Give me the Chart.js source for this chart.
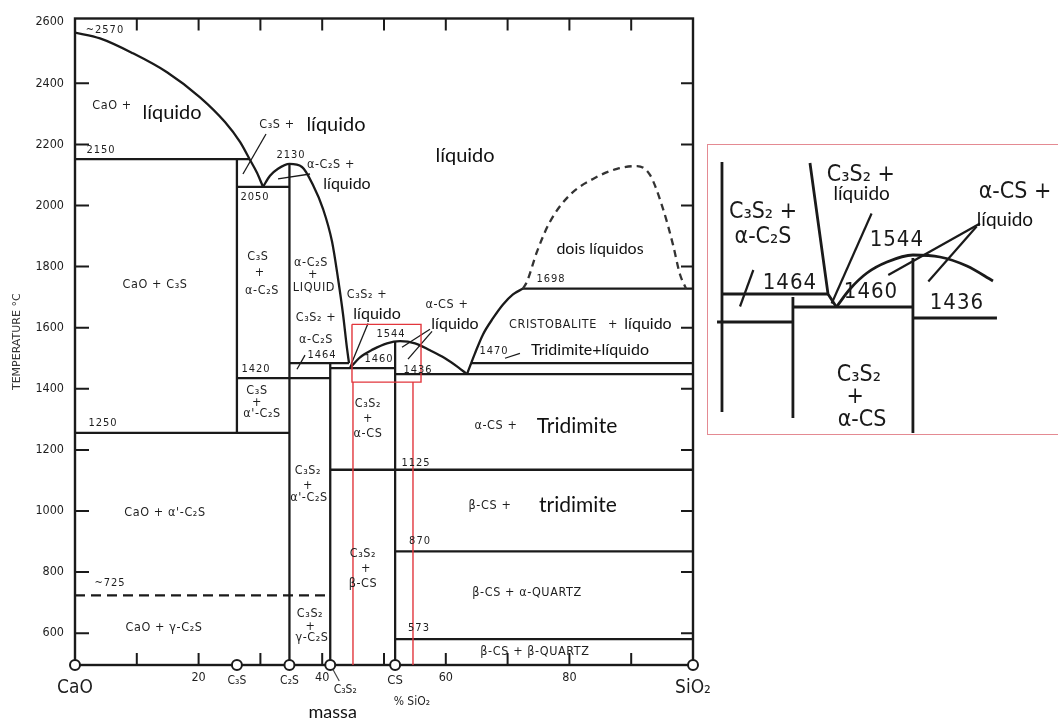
<!DOCTYPE html>
<html lang="pt">
<head>
<meta charset="utf-8">
<title>Diagrama de fases CaO-SiO2</title>
<script src="https://cdn.jsdelivr.net/npm/chart.js@4.4.1/dist/chart.umd.min.js"></script>
<style>
  html, body { margin: 0; padding: 0; background: #fff; overflow: hidden; }
  #diagrama { position: absolute; left: 0; top: 0; }
  #detalhe-borda { position: absolute; left: 707px; top: 144px; width: 420px; height: 289px; border: 1.5px solid #e48a92; }
  #detalhe { position: absolute; left: 709px; top: 146px; }
</style>
</head>
<body>
<canvas id="diagrama" width="1058" height="720"></canvas>
<div id="detalhe-borda"></div>
<canvas id="detalhe" width="349" height="288"></canvas>
<script>
/**
 * Diagrama CaO-SiO2 (% massa SiO2 x temperatura °C) + detalhe ampliado
 */

// eixos
const eixoTemp = [600, 800, 1000, 1200, 1400, 1600, 1800, 2000, 2200, 2400, 2600];
const marcasTemp = [600, 800, 1000, 1200, 1400, 1600, 1800, 2000, 2200, 2400];
const eixoPct = [20, 40, 60, 80];
const marcasPct = [10, 20, 30, 40, 50, 60, 70, 80, 90];

// compostos no eixo x (% SiO2)
const compostos = ['CaO', 'C₃S', 'C₂S', 'C₃S₂', 'CS', 'SiO₂'];
const compostosPct = [0, 26.2, 34.7, 41.3, 51.8, 100];

// curvas liquidus [pct, temp]
const liqCaO = [[0, 2566], [4.05, 2547], [9.39, 2498], [14.89, 2436], [20.23, 2354], [24.27, 2273], [26.7, 2208], [28.32, 2149], [29.45, 2107], [30.42, 2061]];
const liqC2S = [[30.42, 2061], [31.55, 2097], [32.85, 2120], [34.7, 2136], [36.73, 2126], [38.51, 2067], [40.13, 1989], [41.59, 1882], [42.56, 1761], [43.37, 1644], [44.01, 1533], [44.34, 1484]];
const liqCS = [[44.5, 1468], [46.12, 1503], [48.22, 1529], [50.49, 1549], [52.59, 1556], [55.02, 1549], [57.44, 1526], [59.87, 1500], [61.97, 1471], [63.43, 1448]];
const liqSiO2 = [[63.43, 1448], [64.72, 1516], [66.02, 1578], [67.64, 1631], [69.26, 1676], [70.87, 1709], [72.49, 1728]];
const doisLiquidos = [[72.49, 1728], [73.14, 1751], [74.76, 1849], [76.86, 1947], [80.1, 2035], [83.82, 2087], [87.7, 2120], [90.94, 2129], [93.04, 2100], [95.15, 1989], [96.76, 1872], [97.9, 1774], [98.87, 1728]];

// linhas verticais [pct, temp sup, temp inf]
const verticais = [[26.2, 2152, 1256], [34.7, 2136, 496], [41.3, 1484, 496], [51.8, 1556, 496]];

// isotermas [temp, pct inicial, pct final]
const isotermas = [
  [2152, 0, 28.3], [2061, 26.2, 34.7], [1256, 0, 34.7], [1435, 26.2, 41.3],
  [1484, 34.7, 44.34], [1468, 41.3, 51.8], [1448, 51.8, 100], [1484, 64.1, 100],
  [1728, 72.49, 100], [1135, 41.3, 100], [868, 51.8, 100], [581, 51.8, 100]
];
const isoterma725 = [724, 0, 41.3];

// linhas de chamada
const guias = [
  [[27.18, 2103], [30.91, 2234]],
  [[32.85, 2087], [38.03, 2103]],
  [[35.92, 1464], [37.22, 1510]],
  [[44.5, 1471], [47.41, 1614]],
  [[52.91, 1536], [57.44, 1595]],
  [[53.88, 1497], [57.77, 1588]],
  [[69.58, 1500], [72.0, 1516]]
];

// marcação vermelha da região ampliada
const caixaVermelha = [[44.82, 1611], [55.99, 1611], [55.99, 1422], [44.82, 1422], [44.82, 1611]];
const faixaVermelha = [[44.98, 1422, 496], [54.69, 1422, 496]];

// rótulos [texto, pct, temp, estilo]
const rotulos = [
  ['~2570', 4.85, 2573, 'num'],
  ['CaO +', 6.0, 2325, 'tec'], ['líquido', 15.7, 2305, 'pt'],
  ['2150', 4.21, 2182, 'num'],
  ['C₃S +', 32.69, 2263, 'tec'], ['líquido', 42.23, 2266, 'pt'],
  ['2130', 34.95, 2165, 'num'],
  ['2050', 29.13, 2028, 'num'],
  ['α-C₂S +', 41.42, 2133, 'tec'], ['líquido', 44.01, 2071, 'ptm'],
  ['líquido', 63.11, 2165, 'pt'],
  ['C₃S', 29.6, 1833, 'tec'], ['+', 29.9, 1780, 'tec'], ['α-C₂S', 30.26, 1722, 'tec'],
  ['α-C₂S', 38.19, 1813, 'tec'], ['+', 38.5, 1774, 'tec'], ['LIQUID', 38.67, 1732, 'tec'],
  ['C₃S₂ +', 39.0, 1631, 'tec'], ['α-C₂S', 39.0, 1562, 'tec'],
  ['1464', 39.97, 1510, 'num'],
  ['1420', 29.29, 1464, 'num'],
  ['C₃S', 29.45, 1393, 'tec'], ['+', 29.45, 1353, 'tec'], ["α'-C₂S", 30.26, 1318, 'tec'],
  ['1250', 4.53, 1288, 'num'],
  ['CaO + C₃S', 12.94, 1741, 'tec'],
  ['C₃S₂', 37.7, 1132, 'tec'], ['+', 37.7, 1083, 'tec'], ["α'-C₂S", 37.86, 1044, 'tec'],
  ["CaO + α'-C₂S", 14.56, 995, 'tec'],
  ['~725', 5.66, 763, 'num'],
  ['CaO + γ-C₂S', 14.4, 617, 'tec'],
  ['C₃S₂', 38.03, 665, 'tec'], ['+', 38.1, 620, 'tec'], ['γ-C₂S', 38.35, 584, 'tec'],
  ['C₃S₂ +', 47.25, 1709, 'tec'], ['líquido', 48.87, 1644, 'ptm'],
  ['1544', 51.13, 1578, 'num'],
  ['1460', 49.19, 1497, 'num'],
  ['1436', 55.5, 1461, 'num'],
  ['α-CS +', 60.19, 1676, 'tec'], ['líquido', 61.49, 1614, 'ptm'],
  ['CRISTOBALITE', 77.35, 1611, 'tec'], ['+', 87.06, 1611, 'tec'], ['líquido', 92.72, 1611, 'ptm'],
  ['Tridimite+líquido', 83.33, 1529, 'ptm'],
  ['1470', 67.8, 1523, 'num'],
  ['dois líquidos', 84.95, 1859, 'ptm'],
  ['1698', 77.02, 1758, 'num'],
  ['α-CS +', 68.12, 1278, 'tec'], ['Tridimite', 81.23, 1278, 'ptg'],
  ['1125', 55.18, 1158, 'num'],
  ['β-CS +', 67.15, 1018, 'tec'], ['tridimite', 81.39, 1018, 'ptg'],
  ['870', 55.83, 903, 'num'],
  ['β-CS + α-QUARTZ', 73.14, 734, 'tec'],
  ['573', 55.66, 617, 'num'],
  ['β-CS + β-QUARTZ', 74.43, 538, 'tec'],
  ['C₃S₂', 47.41, 1350, 'tec'], ['+', 47.41, 1301, 'tec'], ['α-CS', 47.41, 1252, 'tec'],
  ['C₃S₂', 46.6, 861, 'tec'], ['+', 47.1, 812, 'tec'], ['β-CS', 46.6, 763, 'tec']
];

// detalhe (região 1420-1560 °C, esquemático)
const detVerticais = [[34.9, 1730, 1230], [41.35, 1460, 1218], [52.26, 1538, 1188]];
const detIsotermas = [[1466, 34.9, 44.54], [1440, 41.35, 52.26], [1410, 34.45, 41.35], [1418, 52.26, 59.9]];
const detLiqC2S = [[42.9, 1728], [44.54, 1466], [45.3, 1440]];
const detLiqCS = [[45.3, 1440], [46.54, 1476], [48.08, 1508], [49.9, 1530], [52.26, 1544], [54.72, 1540], [57.17, 1522], [59.54, 1492]];
const detGuias = [
  [[48.5, 1627], [44.87, 1447]],
  [[58.36, 1607], [50.02, 1504]],
  [[58.05, 1601], [53.66, 1491]],
  [[37.75, 1514], [36.54, 1441]]
];
const detRotulos = [
  ['C₃S₂ +', 47.53, 1704, 'tec'], ['líquido', 47.6, 1667, 'pt'],
  ['C₃S₂ +', 38.63, 1630, 'tec'], ['α-C₂S', 38.63, 1580, 'tec'],
  ['1464', 41.08, 1488, 'num'],
  ['1544', 50.8, 1574, 'num'],
  ['1460', 48.45, 1470, 'num'],
  ['1436', 56.26, 1448, 'num'],
  ['α-CS +', 61.54, 1670, 'tec'], ['líquido', 60.63, 1614, 'pt'],
  ['C₃S₂', 47.35, 1304, 'tec'], ['+', 47.0, 1260, 'tec'], ['α-CS', 47.63, 1214, 'tec']
];

const PRETO = '#1a1a1a';
const VERMELHO = '#e2363c';
const TEC = '"DejaVu Sans Condensed", "DejaVu Sans", sans-serif';
const PT = 'Lato, "Open Sans", sans-serif';

const estilos = {
  tec: { font: `12.5px ${TEC}`, color: '#1e1e1e', spacing: '0.6px' },
  num: { font: `11px ${TEC}`, color: '#1e1e1e', spacing: '1px' },
  pt: { font: `20px ${PT}`, color: '#111' },
  ptm: { font: `16px ${PT}`, color: '#111' },
  ptg: { font: `21px ${PT}`, color: '#111' }
};
const estilosDet = {
  tec: { font: `23px ${TEC}`, color: '#1a1a1a' },
  num: { font: `22px ${TEC}`, color: '#1a1a1a', spacing: '1px' },
  pt: { font: `19px ${PT}`, color: '#111' }
};

function linha(pts, extra) {
  return Object.assign({
    data: pts.map(([x, y]) => ({ x, y })),
    showLine: true, pointRadius: 0, borderColor: PRETO, borderWidth: 2.3, tension: 0, fill: false
  }, extra);
}
function curva(pts, extra) {
  return linha(pts, Object.assign({ cubicInterpolationMode: 'monotone', tension: 0.4 }, extra));
}
const horiz = ([t, a, b]) => [[a, t], [b, t]];
const vert = ([p, t1, t2]) => [[p, t1], [p, t2]];

/**
 * Desenha rótulos de texto em coordenadas de dados
 */
function pluginRotulos(id, lista, est) {
  return {
    id,
    afterDatasetsDraw(chart) {
      const { ctx, scales: { x, y } } = chart;
      ctx.save();
      ctx.textAlign = 'center';
      ctx.textBaseline = 'middle';
      lista.forEach(([texto, p, t, e]) => {
        const s = est[e];
        ctx.font = s.font;
        ctx.fillStyle = s.color;
        ctx.letterSpacing = s.spacing || '0px';
        ctx.fillText(texto, x.getPixelForValue(p), y.getPixelForValue(t));
      });
      ctx.restore();
    }
  };
}

/**
 * Moldura e marcas internas dos eixos
 */
const moldura = {
  id: 'moldura',
  beforeDatasetsDraw(chart) {
    const { ctx, chartArea: a, scales: { x, y } } = chart;
    ctx.save();
    ctx.strokeStyle = PRETO;
    ctx.lineWidth = 2.4;
    ctx.strokeRect(a.left, a.top, a.right - a.left, a.bottom - a.top);
    ctx.lineWidth = 2;
    ctx.beginPath();
    marcasTemp.forEach(t => {
      const py = y.getPixelForValue(t);
      ctx.moveTo(a.left, py); ctx.lineTo(a.left + 14, py);
      ctx.moveTo(a.right, py); ctx.lineTo(a.right - 12, py);
    });
    marcasPct.forEach(p => {
      const px = x.getPixelForValue(p);
      ctx.moveTo(px, a.top); ctx.lineTo(px, a.top + 12);
      ctx.moveTo(px, a.bottom); ctx.lineTo(px, a.bottom - 12);
    });
    ctx.stroke();
    ctx.restore();
  }
};

/**
 * Nomes dos compostos sob o eixo x
 */
const nomesCompostos = {
  id: 'nomesCompostos',
  afterDraw(chart) {
    const { ctx, chartArea: a, scales: { x } } = chart;
    const layout = { 'CaO': [0, 23, 19], 'SiO₂': [0, 23, 19], 'C₃S₂': [15, 25, 12], 'CS': [0, 16, 13] };
    ctx.save();
    ctx.textAlign = 'center';
    ctx.textBaseline = 'middle';
    ctx.fillStyle = '#1e1e1e';
    compostos.forEach((nome, i) => {
      const [dx, dy, tam] = layout[nome] || [0, 16, 12];
      const px = x.getPixelForValue(compostosPct[i]);
      ctx.font = `${tam}px ${TEC}`;
      ctx.fillText(nome, px + dx, a.bottom + dy);
      if (nome === 'C₃S₂') {
        ctx.strokeStyle = '#444';
        ctx.lineWidth = 1.2;
        ctx.beginPath();
        ctx.moveTo(px + 3, a.bottom + 5);
        ctx.lineTo(px + 9, a.bottom + 16);
        ctx.stroke();
      }
    });
    ctx.font = `12px ${TEC}`;
    ctx.fillText('% SiO₂', x.getPixelForValue(54.5), a.bottom + 37);
    ctx.font = `18px ${PT}`;
    ctx.fillStyle = '#111';
    ctx.fillText('massa', x.getPixelForValue(41.7), a.bottom + 47);
    ctx.restore();
  }
};

// conjuntos do diagrama principal
const conjuntos = [
  {
    data: compostosPct.map(p => ({ x: p, y: 496 })),
    showLine: false, pointRadius: 5, pointBackgroundColor: '#fff',
    pointBorderColor: PRETO, pointBorderWidth: 2, clip: false
  },
  linha(caixaVermelha, { borderColor: VERMELHO, borderWidth: 1.4 }),
  ...faixaVermelha.map(v => linha(vert(v), { borderColor: VERMELHO, borderWidth: 1.4 })),
  curva(liqCaO),
  curva(liqC2S),
  curva(liqCS),
  curva(liqSiO2),
  curva(doisLiquidos, { borderDash: [7, 5], borderColor: '#333' }),
  ...verticais.map(v => linha(vert(v))),
  ...isotermas.map(h => linha(horiz(h))),
  linha(horiz(isoterma725), { borderDash: [10, 6] }),
  ...guias.map(g => linha(g, { borderWidth: 1.3 }))
];

new Chart(document.getElementById('diagrama'), {
  type: 'scatter',
  data: { datasets: conjuntos },
  options: {
    responsive: false,
    animation: false,
    events: [],
    layout: { padding: { left: 0, top: 16, right: 365, bottom: 0 } },
    plugins: { legend: { display: false }, tooltip: { enabled: false } },
    scales: {
      x: {
        type: 'linear', min: 0, max: 100,
        afterFit: s => { s.height = 55; },
        afterBuildTicks: s => { s.ticks = eixoPct.map(v => ({ value: v })); },
        grid: { display: false, drawTicks: false },
        border: { display: false },
        ticks: { padding: 5, color: '#1e1e1e', font: { family: TEC, size: 12.5 }, callback: v => String(v) }
      },
      y: {
        type: 'linear', min: 496, max: 2612,
        afterFit: s => { s.width = 75; },
        afterBuildTicks: s => { s.ticks = eixoTemp.map(v => ({ value: v })); },
        grid: { display: false, drawTicks: false },
        border: { display: false },
        ticks: { padding: 11, color: '#1e1e1e', font: { family: TEC, size: 12.5 }, callback: v => String(v) },
        title: {
          display: true, text: 'TEMPERATURE °C', color: '#333',
          font: { family: 'DejaVu Sans', size: 11 }, padding: { top: 11, bottom: 0 }
        }
      }
    }
  },
  plugins: [moldura, pluginRotulos('rotulos', rotulos, estilos), nomesCompostos]
});

// detalhe ampliado
const conjuntosDet = [
  ...detVerticais.map(v => linha(vert(v), { borderWidth: 2.8 })),
  ...detIsotermas.map(h => linha(horiz(h), { borderWidth: 2.8 })),
  linha(detLiqC2S, { borderWidth: 2.8 }),
  curva(detLiqCS, { borderWidth: 2.8 }),
  ...detGuias.map(g => linha(g, { borderWidth: 2.2 }))
];

new Chart(document.getElementById('detalhe'), {
  type: 'scatter',
  data: { datasets: conjuntosDet },
  options: {
    responsive: false,
    animation: false,
    events: [],
    layout: { padding: 0 },
    plugins: { legend: { display: false }, tooltip: { enabled: false } },
    scales: {
      x: { type: 'linear', display: false, min: 33.72, max: 65.45 },
      y: { type: 'linear', display: false, min: 1186, max: 1762 }
    }
  },
  plugins: [pluginRotulos('rotDetalhe', detRotulos, estilosDet)]
});
</script>
</body>
</html>
